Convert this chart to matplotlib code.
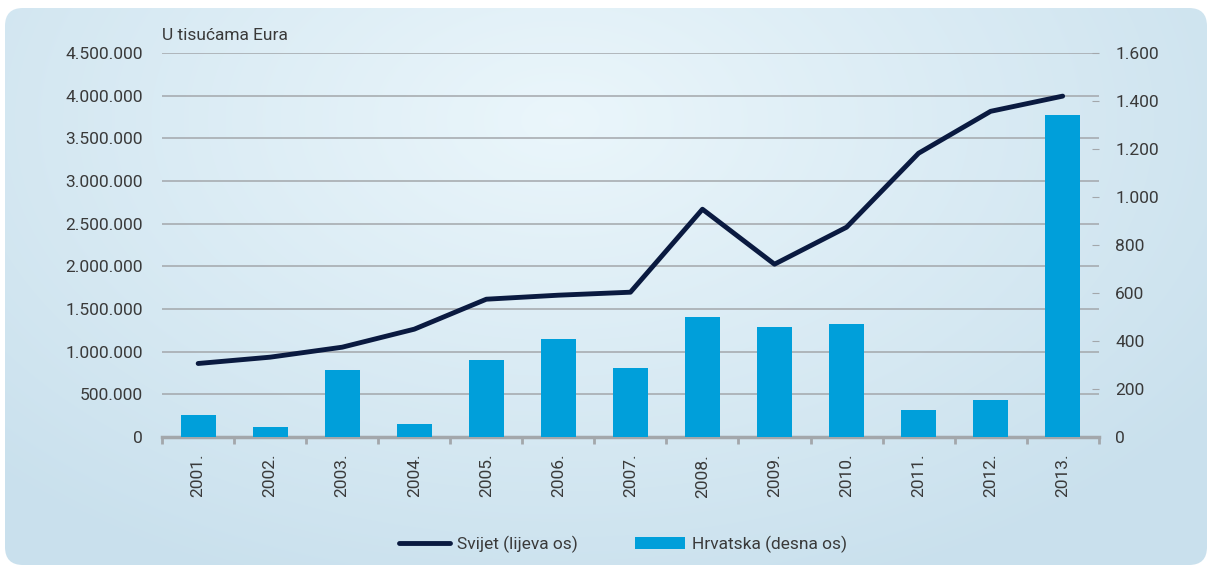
import numpy as np
import matplotlib.pyplot as plt
from matplotlib.patches import FancyBboxPatch
from matplotlib.lines import Line2D
from matplotlib.patches import Patch

# Podaci (u tisućama eura)
godine = ['2001.', '2002.', '2003.', '2004.', '2005.', '2006.', '2007.',
          '2008.', '2009.', '2010.', '2011.', '2012.', '2013.']
svijet = [863000, 937000, 1054000, 1265000, 1616000, 1663000, 1698000,
          2670000, 2026000, 2459000, 3326000, 3817000, 3995000]
hrvatska = [91, 42, 279, 54, 321, 408, 288, 500, 458, 471, 112, 154, 1342]

lijeve_oznake = ['0', '500.000', '1.000.000', '1.500.000', '2.000.000', '2.500.000',
                 '3.000.000', '3.500.000', '4.000.000', '4.500.000']
desne_oznake = ['0', '200', '400', '600', '800', '1.000', '1.200', '1.400', '1.600']

plt.rcParams['font.family'] = ['Roboto', 'DejaVu Sans']
tekst = '#3a3a3a'
siva = '#a3a7ab'

fig = plt.figure(figsize=(12.10, 5.67), dpi=100)

# Pozadina: zaobljeni pravokutnik s gradijentom
bg = fig.add_axes([0, 0, 1, 1])
bg.set_xlim(0, 1210)
bg.set_ylim(567, 0)
bg.axis('off')
yy, xx = np.mgrid[0:567, 0:1210]
d = np.sqrt(((xx - 560) / 800.0) ** 2 + ((yy - 120) / 500.0) ** 2)
d = np.clip(d, 0, 1)
c1 = np.array([0.92, 0.965, 0.985])
c2 = np.array([0.79, 0.88, 0.93])
img = c1[None, None, :] * (1 - d[..., None]) + c2[None, None, :] * d[..., None]
im = bg.imshow(img, extent=(0, 1210, 567, 0), aspect='auto', zorder=0)
okvir = FancyBboxPatch((5, 8), 1202, 557, boxstyle='round,pad=0,rounding_size=18',
                       transform=bg.transData, facecolor='none', edgecolor='none')
bg.add_patch(okvir)
im.set_clip_path(okvir)

ax = fig.add_axes([0.134, 0.229, 0.774, 0.6775])
ax.patch.set_alpha(0)
x = np.arange(len(godine))

ax.set_xlim(-0.5, len(godine) - 0.5)
ax.set_ylim(0, 4500000)
ax.set_yticks(np.arange(0, 4500001, 500000))
ax.set_yticklabels(lijeve_oznake, fontsize=12.5, color=tekst)
ax.tick_params(axis='y', length=0, pad=14)
for v in np.arange(500000, 4500001, 500000):
    ax.axhline(v, color=siva, lw=1.1, zorder=0)

ax.set_xticks(x)
ax.set_xticklabels(godine, rotation=90, fontsize=12.5, color=tekst)
ax.set_xticks(np.arange(-0.5, len(godine), 1), minor=True)
ax.tick_params(axis='x', which='major', length=0, pad=12)
ax.tick_params(axis='x', which='minor', length=5, width=2, color=siva)
for s in ['top', 'right', 'left']:
    ax.spines[s].set_visible(False)
ax.spines['bottom'].set_color(siva)
ax.spines['bottom'].set_linewidth(2.5)

ax2 = ax.twinx()
ax2.set_ylim(0, 1600)
ax2.set_yticks(np.arange(0, 1601, 200))
ax2.set_yticklabels(desne_oznake, fontsize=12.5, color=tekst)
ax2.tick_params(axis='y', direction='in', length=5, color=siva, pad=12)
for s in ['top', 'right', 'left', 'bottom']:
    ax2.spines[s].set_visible(False)

ax2.bar(x, hrvatska, width=0.49, color='#009fda', zorder=2)
ax3 = ax.twinx()
ax3.axis('off')
ax3.set_ylim(0, 4500000)
ax3.plot(x, svijet, color='#0a1a40', lw=3.5, solid_capstyle='round', zorder=3)

ax.text(0, 1.025, 'U tisućama Eura', transform=ax.transAxes, fontsize=12.5,
        color=tekst, ha='left', va='bottom')

ruke = [Line2D([0], [0], color='#0a1a40', lw=3.5, solid_capstyle='round'),
        Patch(facecolor='#009fda')]
fig.legend(ruke, ['Svijet (lijeva os)', 'Hrvatska (desna os)'], loc='center',
           bbox_to_anchor=(0.515, 0.04), ncol=2, frameon=False, fontsize=12.5,
           labelcolor=tekst, handlelength=2.9, handletextpad=0.4, columnspacing=3.3)

fig.savefig('out.png', dpi=100)
